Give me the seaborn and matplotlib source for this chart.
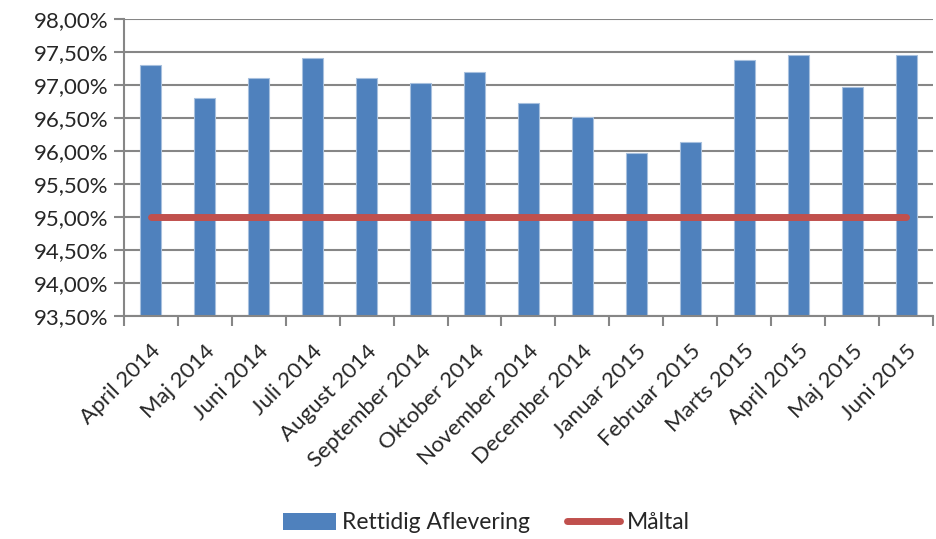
import seaborn as sns
import matplotlib.pyplot as plt
import matplotlib.ticker as mticker
from matplotlib.patches import Patch
from matplotlib.lines import Line2D
import numpy as np
import pandas as pd

maaneder = ["April 2014", "Maj 2014", "Juni 2014", "Juli 2014", "August 2014",
            "September 2014", "Oktober 2014", "November 2014", "December 2014",
            "Januar 2015", "Februar 2015", "Marts 2015", "April 2015", "Maj 2015",
            "Juni 2015"]
rettidig = [97.30, 96.80, 97.10, 97.40, 97.10, 97.03, 97.20, 96.73, 96.51,
            95.97, 96.14, 97.38, 97.45, 96.97, 97.46]
maaltal = [95.0] * len(maaneder)

blue = "#4F81BD"
red = "#C0504D"
grey = "#868686"

sns.set_theme(style="white")
plt.rcParams['font.family'] = ['Lato', 'DejaVu Sans']

df = pd.DataFrame({"Måned": maaneder, "Rettidig": rettidig, "Maaltal": maaltal})

fig = plt.figure(figsize=(9.37, 5.39), dpi=100)
ax = fig.add_axes([0.132, 0.414, 0.864, 0.551])

sns.barplot(data=df, x="Måned", y="Rettidig", color=blue, width=0.39,
            saturation=1, edgecolor="#A7C0DE", linewidth=0.8, ax=ax, zorder=2)
ax.plot(np.arange(len(maaneder)), df["Maaltal"], color=red, lw=5,
        solid_capstyle="round", zorder=3)

ax.set_ylim(93.5, 98.0)
ax.set_xlim(-0.5, len(maaneder) - 0.5)
ax.yaxis.set_major_locator(mticker.MultipleLocator(0.5))
ax.yaxis.set_major_formatter(mticker.FuncFormatter(
    lambda v, p: f"{v:.2f}".replace(".", ",") + "%"))
ax.grid(axis="y", color=grey, lw=1.5, zorder=0)
ax.set_axisbelow(True)

for s in ["top", "right"]:
    ax.spines[s].set_visible(False)
for s in ["left", "bottom"]:
    ax.spines[s].set_color(grey)
    ax.spines[s].set_linewidth(1.5)

ax.set_xticks(np.arange(len(maaneder)))
ax.set_xticklabels(maaneder, rotation=45, ha="right", rotation_mode="anchor",
                   fontsize=16, color="#262626")
ax.tick_params(axis="x", which="major", length=0, pad=18)
ax.set_xticks(np.arange(len(maaneder) + 1) - 0.5, minor=True)
ax.tick_params(axis="x", which="minor", length=7, width=1.5, color=grey,
               direction="out", bottom=True)
ax.tick_params(axis="y", length=7, width=1.5, color=grey, left=True,
               labelsize=16, labelcolor="#262626", pad=4)
ax.set_xlabel("")
ax.set_ylabel("")

handles = [Patch(facecolor=blue, edgecolor="none"),
           Line2D([0], [0], color=red, lw=5, solid_capstyle="round")]
fig.legend(handles, ["Rettidig Aflevering", "Måltal"], loc="center",
           bbox_to_anchor=(0.519, 0.03), ncol=2, frameon=False, fontsize=16.5,
           handlelength=2.3, handleheight=0.8, columnspacing=1.6,
           handletextpad=0.3)

fig.savefig("out.png", dpi=100)
